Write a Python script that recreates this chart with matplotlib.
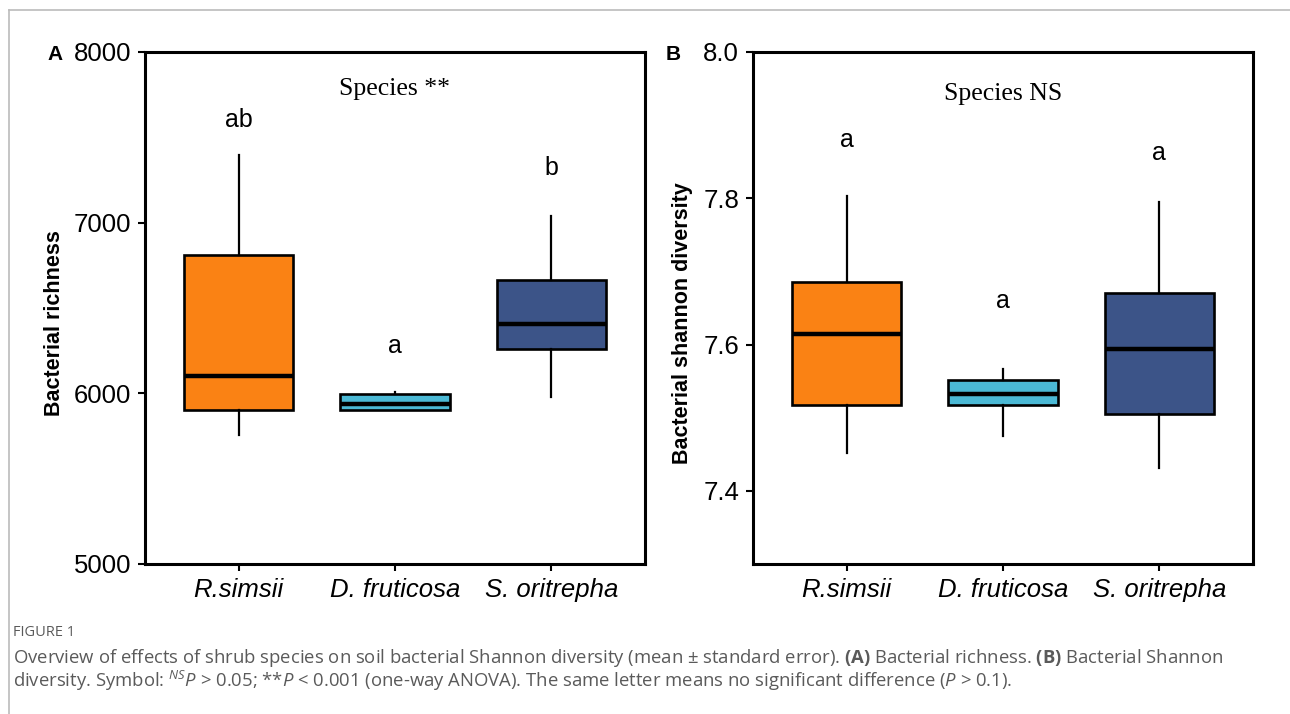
import matplotlib
matplotlib.use('Agg')
import matplotlib.pyplot as plt
from matplotlib.lines import Line2D

species = ['R.simsii', 'D. fruticosa', 'S. oritrepha']
colors = ['#FA8214', '#4BB9D5', '#3C5488']

# panel A: bacterial richness (whisker low, q1, median, q3, whisker high)
rich_lo = [5758, 5900, 5980]
rich_q1 = [5903, 5903, 6259]
rich_med = [6103, 5938, 6408]
rich_q3 = [6809, 5994, 6666]
rich_hi = [7394, 6007, 7040]
rich_letters = ['ab', 'a', 'b']
rich_letter_y = [7604, 6276, 7322]

# panel B: bacterial shannon diversity
shan_lo = [7.452, 7.475, 7.431]
shan_q1 = [7.518, 7.518, 7.505]
shan_med = [7.614, 7.532, 7.594]
shan_q3 = [7.685, 7.552, 7.670]
shan_hi = [7.803, 7.566, 7.795]
shan_letters = ['a', 'a', 'a']
shan_letter_y = [7.88, 7.66, 7.862]

plt.rcParams['font.family'] = ['Liberation Sans', 'DejaVu Sans']
plt.rcParams['mathtext.fontset'] = 'custom'
plt.rcParams['mathtext.rm'] = 'Open Sans'
plt.rcParams['mathtext.it'] = 'Open Sans:italic'
plt.rcParams['mathtext.bf'] = 'Open Sans:bold'

fig = plt.figure(figsize=(12.9, 7.14), dpi=100)


def panel(rect, lo, q1, med, q3, hi, letters, letter_y, ylim, yticks, yticklabels,
          ylabel, label_x, title, title_y, tag, tag_x):
    ax = fig.add_axes(rect)
    stats = []
    for i in range(len(species)):
        stats.append({'whislo': lo[i], 'q1': q1[i], 'med': med[i], 'q3': q3[i],
                      'whishi': hi[i], 'fliers': []})
    bp = ax.bxp(stats, positions=[1, 2, 3], widths=0.7, patch_artist=True,
                showcaps=False, showfliers=False,
                boxprops=dict(linewidth=1.9, edgecolor='black'),
                whiskerprops=dict(linewidth=1.6, color='black'),
                medianprops=dict(linewidth=3.2, color='black', solid_capstyle='butt'))
    for patch, c in zip(bp['boxes'], colors):
        patch.set_facecolor(c)
    for i, (t, y) in enumerate(zip(letters, letter_y)):
        ax.text(i + 1, y, t, ha='center', va='center', fontsize=18)
    ax.text(2, title_y, title, ha='center', va='center', fontsize=18.5,
            family='Liberation Serif')
    ax.set_xlim(0.4, 3.6)
    ax.set_ylim(*ylim)
    ax.set_yticks(yticks)
    ax.set_yticklabels(yticklabels)
    ax.set_xticks([1, 2, 3])
    ax.set_xticklabels(species, style='italic')
    ax.tick_params(labelsize=18.5, length=5, width=1.5, pad=5)
    ax.set_ylabel(ylabel, fontsize=15.5, fontweight='bold', va='center')
    ax.yaxis.set_label_coords(label_x, 0.47)
    for s in ax.spines.values():
        s.set_linewidth(2.2)
    fig.text(tag_x, 0.924, tag, fontsize=15, fontweight='bold',
             va='center', ha='center')
    return ax


panel([0.1124, 0.2101, 0.3876, 0.7171], rich_lo, rich_q1, rich_med, rich_q3, rich_hi,
      rich_letters, rich_letter_y, (5000, 8000), [5000, 6000, 7000, 8000],
      ['5000', '6000', '7000', '8000'], 'Bacterial richness', -0.18,
      'Species **', 7785, 'A', 0.043)

panel([0.5837, 0.2101, 0.3876, 0.7171], shan_lo, shan_q1, shan_med, shan_q3, shan_hi,
      shan_letters, shan_letter_y, (7.3, 8.0), [7.4, 7.6, 7.8, 8.0],
      ['7.4', '7.6', '7.8', '8.0'], 'Bacterial shannon diversity', -0.14,
      'Species NS', 7.942, 'B', 0.522)

# page frame lines
fig.add_artist(Line2D([9 / 1290, 1], [1 - 10 / 714, 1 - 10 / 714], color='#BBBBBB', lw=1.2))
fig.add_artist(Line2D([9 / 1290, 9 / 1290], [0, 1 - 10 / 714], color='#BBBBBB', lw=1.2))

# caption
cap = '#5A5A5A'
fig.text(13 / 1290, 1 - 632 / 714, 'FIGURE 1', fontsize=10.5, color=cap, va='center',
         family='Open Sans')
fig.text(13 / 1290, 1 - 658 / 714,
         r'Overview of effects of shrub species on soil bacterial Shannon diversity (mean ± standard error). '
         r'$\mathbf{(A)}$ Bacterial richness. $\mathbf{(B)}$ Bacterial Shannon',
         fontsize=13.3, color=cap, va='center', family='Open Sans')
fig.text(13 / 1290, 1 - 681 / 714,
         r'diversity. Symbol: $^{NS}\mathit{P}$ > 0.05; **$\mathit{P}$ < 0.001 (one-way ANOVA). '
         r'The same letter means no significant difference ($\mathit{P}$ > 0.1).',
         fontsize=13.3, color=cap, va='center', family='Open Sans')

fig.savefig('out.png', dpi=100)
